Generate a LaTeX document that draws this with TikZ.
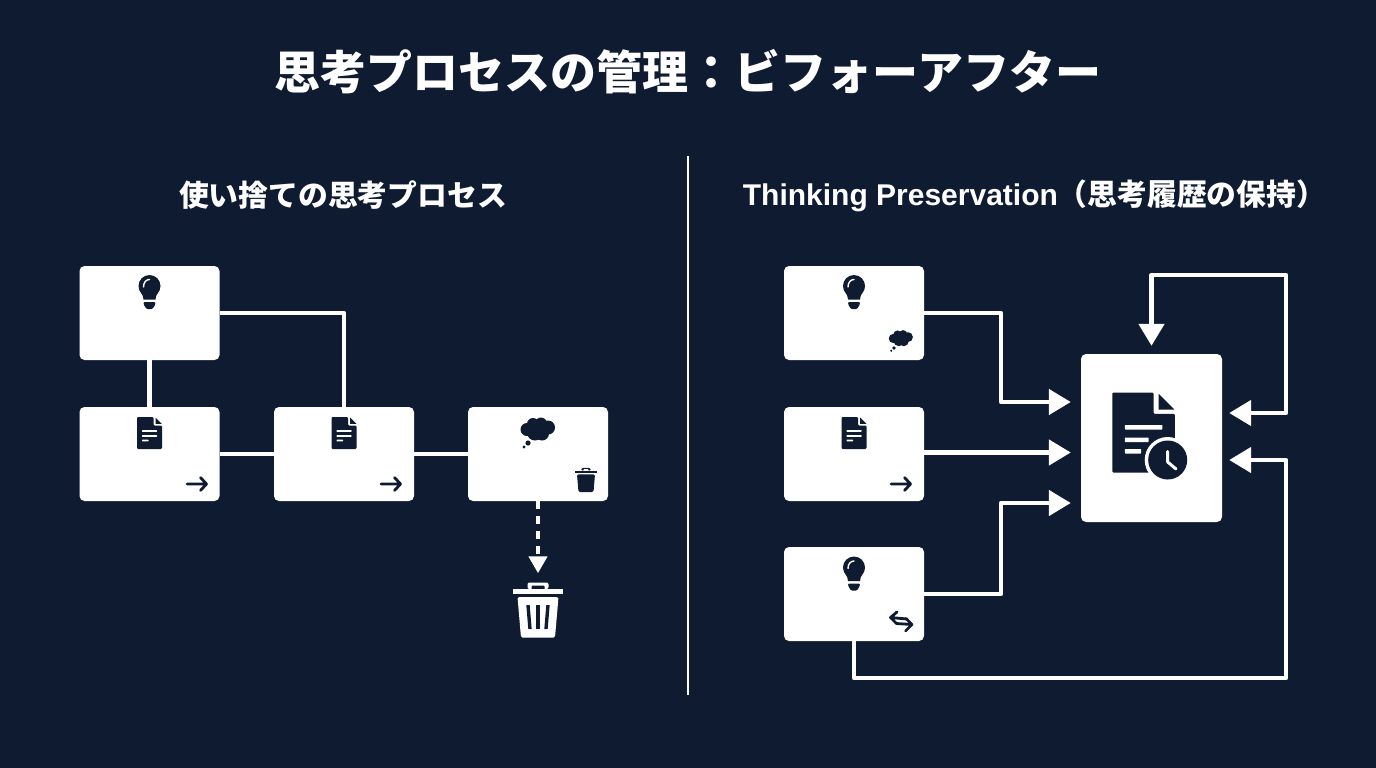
\documentclass[tikz,border=0pt]{standalone}
\usepackage{fontspec}
\setmainfont{Noto Sans CJK JP}
\newfontfamily\latinfont{Liberation Sans}
\usetikzlibrary{arrows.meta}
\definecolor{navy}{HTML}{0F1B31}
\tikzset{
    card/.style={fill=white, rounded corners=5pt, minimum width=140pt, minimum height=94pt, inner sep=0pt},
    link/.style={draw=white, line width=4.7pt, line join=round},
    flow/.style={link, -{Triangle[length=22pt,width=25pt]}},
    pics/bulbicon/.style={code={
        \fill[navy] (0,-6) circle[radius=11];
        \fill[navy] (-6,7.5) .. controls (-6,2) and (-10.5,0) .. (-10.5,-6) -- (10.5,-6) .. controls (10.5,0) and (6,2) .. (6,7.5) -- cycle;
        \fill[navy, rounded corners=1pt] (-5.8,10) -- (5.8,10) -- (5.8,12.5) -- (3,17) -- (-3,17) -- (-5.8,12.5) -- cycle;
        \draw[white, line width=1.4pt, line cap=round] (-6,-5) .. controls (-6,-10) and (-3,-12.5) .. (0,-12.5);
    }},
    pics/docicon/.style={code={
        \fill[navy, rounded corners=1.2pt] (-12.5,-16) -- (4,-16) -- (4,-7.5) -- (12.5,-7.5) -- (12.5,16) -- (-12.5,16) -- cycle;
        \fill[navy] (6,-15.5) -- (12.3,-9.2) -- (6,-9.2) -- cycle;
        \fill[white, rounded corners=.5pt] (-7.5,-3) rectangle (7.5,-1.2);
        \fill[white, rounded corners=.5pt] (-7.5,2) rectangle (#1,3.8);
        \fill[white, rounded corners=.5pt] (-7.5,6.6) rectangle (-1,8.4);
    }},
    pics/cloudicon/.style={code={
        \foreach \cx/\cy/\cr in {-11/0/6.5, -5/-5.5/6, 3/-6/6, 10/-2/7, 4/4/7, -3/3/8}
            \fill[navy] (\cx,\cy) circle[radius=\cr];
        \fill[navy] (-10,13.5) circle[radius=2.6];
        \fill[navy] (-14,17.5) circle[radius=1.6];
    }},
    pics/arrowicon/.style={code={
        \draw[navy, line width=2.8pt, line cap=round, line join=round] (-10,0) -- (9.5,0) (3.5,-6.5) -- (9.5,0) -- (3.5,6.5);
    }},
    pics/swapicon/.style={code={
        \draw[navy, line width=2.8pt, line cap=round, line join=round] (6,-3) -- (-10.5,-4.5) (-4,-10) -- (-10.5,-4.5) -- (-5,1);
        \draw[navy, line width=2.8pt, line cap=round, line join=round] (-5,1.5) -- (11,2.5) (5,-3.5) -- (11,2.5) -- (4.5,9);
    }},
    pics/binicon/.style 2 args={code={
        \fill[#1, rounded corners=2pt] (-10.5,-21) -- (-10.5,-27.5) -- (10.5,-27.5) -- (10.5,-21) -- cycle;
        \fill[#2, rounded corners=1pt] (-6.5,-20) rectangle (6.5,-24.5);
        \fill[#1] (-25,-21) rectangle (25,-16.5);
        \fill[#1, rounded corners=1.5pt] (-20.5,-13) -- (20.5,-13) -- (17,27.5) -- (-17,27.5) -- cycle;
    }}
}

\begin{document}
\begin{tikzpicture}[x=1pt, y=-1pt]

    \fill[navy] (0,0) rectangle (1376,768);
    \useasboundingbox (0,0) rectangle (1376,768);

    \node[white, font=\bfseries\fontsize{46}{50}\selectfont] (title) at (688,72) {思考プロセスの管理：ビフォーアフター};
    \node[white, font=\bfseries\fontsize{29.8}{34}\selectfont] (lefthead) at (343,195) {使い捨ての思考プロセス};
    \node[white, font=\bfseries\fontsize{29.8}{34}\selectfont] (righthead) at (1034.5,196) {{\latinfont\fontsize{30}{34}\selectfont Thinking Preservation}（思考履歴の保持）};

    \coordinate (divtop) at (688,156);
    \coordinate (divbot) at (688,695);
    \draw[white, line width=2.4pt] (divtop)--(divbot);

    % before
    \node[card] (idea) at (149.5,313) {};
    \node[card] (doca) at (149.5,454) {};
    \node[card] (docb) at (344,454) {};
    \node[card] (thought) at (538,454) {};
    \node[minimum width=50pt, minimum height=55pt, inner sep=0pt] (trash) at (538,610) {};

    \draw[link] (idea.south)--(doca.north);
    \draw[link] (idea.east)-|(docb.north);
    \draw[link] (doca.east)--(docb.west);
    \draw[link] (docb.east)--(thought.west);
    \draw[link, dash pattern=on 8pt off 7pt, -{Triangle[length=17pt,width=18pt]}, shorten >=9pt] (thought.south)--(trash.north);

    \pic at (149.5,292) {bulbicon};
    \pic at (149.5,433) {docicon=7.5};
    \pic at (344,433) {docicon=7.5};
    \pic at (197,484) {arrowicon};
    \pic at (391,484) {arrowicon};
    \pic at (538,429.5) {cloudicon};
    \pic[scale=0.44] at (586,480) {binicon={navy}{white}};
    \pic at (trash) {binicon={white}{navy}};
    \foreach \sx/\ex in {-10/-8, 0/0, 10/8}
        \fill[navy] ([xshift=\sx*1pt-1.7pt, yshift=5pt]trash.center) -- ([xshift=\sx*1pt+1.7pt, yshift=5pt]trash.center) -- ([xshift=\ex*1pt+1.7pt, yshift=-19pt]trash.center) -- ([xshift=\ex*1pt-1.7pt, yshift=-19pt]trash.center) -- cycle;

    % after
    \node[card] (ideaa) at (854,313) {};
    \node[card] (docc) at (854,454) {};
    \node[card] (ideab) at (854,594) {};
    \node[card, minimum width=141pt, minimum height=168pt] (keep) at (1151.5,438) {};

    \coordinate (toploop) at (1286,275);
    \coordinate (midloop) at (1286,413);
    \coordinate (lowloop) at (1286,460);
    \coordinate (upin) at (1001,402);
    \coordinate (midin) at (1001,452.5);
    \coordinate (lowin) at (1001,503);
    \coordinate (botrun) at (854,678);

    \draw[flow, shorten >=10pt] (ideaa.east)-|(upin)--(keep.west |- upin);
    \draw[flow, shorten >=10pt] (docc.east |- midin)--(keep.west |- midin);
    \draw[flow, shorten >=10pt] (ideab.east)-|(lowin)--(keep.west |- lowin);
    \draw[flow, shorten >=8pt, shorten <=7pt, {Triangle[length=22pt,width=25pt]}-{Triangle[length=22pt,width=25pt]}] (keep.east |- midloop)--(midloop)--(toploop)--(keep.north |- toploop)--(keep.north);
    \draw[flow, shorten >=7pt] (ideab.south)--(botrun)-|(lowloop)--(keep.east |- lowloop);

    \pic at (854,292) {bulbicon};
    \pic[scale=0.7] at (901,338.5) {cloudicon};
    \pic at (854,433) {docicon=7.5};
    \pic at (901,484) {arrowicon};
    \pic at (854,573.5) {bulbicon};
    \pic at (901,622) {swapicon};

    \pic[scale=2.5] at (1143.5,432.5) {docicon=2};
    \fill[white] (1167.7,460) circle[radius=23];
    \fill[navy] (1167.7,460) circle[radius=19.5];
    \draw[white, line width=3pt, line cap=round, line join=round] (1167.7,451.5)--(1167.7,462)--(1176,469);

\end{tikzpicture}
\end{document}
